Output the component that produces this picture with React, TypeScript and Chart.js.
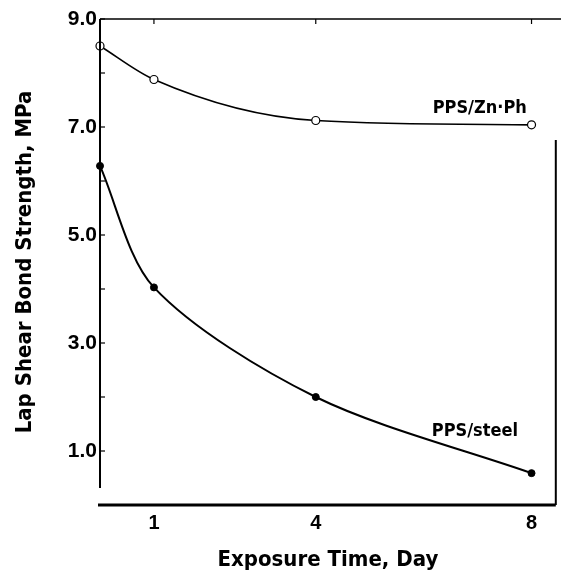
import React, { useEffect, useRef } from "react";
import { Chart, registerables } from "chart.js";

Chart.register(...registerables);

const days = [0, 1, 4, 8];
const znPhValues = [8.5, 7.88, 7.12, 7.04];
const steelValues = [6.28, 4.03, 2.0, 0.59];
const xTickValues = [1, 4, 8];
const yTickValues = [1, 2, 3, 4, 5, 6, 7, 8, 9];
const yLabeledTicks = [1, 3, 5, 7, 9];
const topTickValues = [1, 4, 8];
const seriesNames = ["PPS/Zn·Ph", "PPS/steel"];
const annotationX = [7.04, 6.95];
const annotationY = [7.34, 1.37];

const NARROW = '"Liberation Sans Narrow", "DejaVu Sans Condensed", sans-serif';
const WIDE = '"Liberation Sans", Arial, sans-serif';

const framePlugin = {
  id: "frame",
  afterDraw(chart: any) {
    const ctx = chart.ctx;
    const { left, right, top, bottom } = chart.chartArea;
    const xs = chart.scales.x;
    const ys = chart.scales.y;
    ctx.save();
    ctx.strokeStyle = "#000";
    ctx.lineCap = "butt";
    // left axis
    ctx.lineWidth = 2;
    ctx.beginPath();
    ctx.moveTo(left, top);
    ctx.lineTo(left, bottom - 17);
    ctx.stroke();
    // bottom axis
    ctx.lineWidth = 3;
    ctx.beginPath();
    ctx.moveTo(left - 2, bottom);
    ctx.lineTo(right, bottom);
    ctx.stroke();
    // top line
    ctx.lineWidth = 1.5;
    ctx.beginPath();
    ctx.moveTo(left, top);
    ctx.lineTo(chart.width, top);
    ctx.stroke();
    // right line
    ctx.lineWidth = 2;
    ctx.beginPath();
    ctx.moveTo(right, top + 121);
    ctx.lineTo(right, bottom);
    ctx.stroke();
    // y ticks (inward)
    ctx.lineWidth = 1.2;
    yTickValues.forEach((v) => {
      const y = ys.getPixelForValue(v);
      ctx.beginPath();
      ctx.moveTo(left, y);
      ctx.lineTo(left + 5, y);
      ctx.stroke();
    });
    // top ticks
    topTickValues.forEach((v) => {
      const x = xs.getPixelForValue(v);
      ctx.beginPath();
      ctx.moveTo(x, top);
      ctx.lineTo(x, top + 5);
      ctx.stroke();
    });
    // annotations
    ctx.fillStyle = "#000";
    ctx.font = `bold 18px ${NARROW}`;
    ctx.textAlign = "center";
    ctx.textBaseline = "middle";
    seriesNames.forEach((name, i) => {
      ctx.fillText(name, xs.getPixelForValue(annotationX[i]), ys.getPixelForValue(annotationY[i]));
    });
    ctx.restore();
  },
};

export default function App() {
  const canvasRef = useRef<HTMLCanvasElement | null>(null);

  useEffect(() => {
    document.body.style.margin = "0";
    const canvas = canvasRef.current;
    if (!canvas) return;
    const chart = new Chart(canvas, {
      type: "line",
      data: {
        datasets: [
          {
            label: seriesNames[0],
            data: days.map((d, i) => ({ x: d, y: znPhValues[i] })),
            borderColor: "#000",
            borderWidth: 1.6,
            cubicInterpolationMode: "monotone",
            pointRadius: 4,
            pointBorderWidth: 1.2,
            pointBackgroundColor: "#fff",
            pointBorderColor: "#000",
            clip: false,
          },
          {
            label: seriesNames[1],
            data: days.map((d, i) => ({ x: d, y: steelValues[i] })),
            borderColor: "#000",
            borderWidth: 2,
            tension: 0.3,
            pointRadius: 3.5,
            pointBorderWidth: 1,
            pointBackgroundColor: "#000",
            pointBorderColor: "#000",
            clip: false,
          },
        ] as any,
      },
      options: {
        animation: false,
        responsive: false,
        layout: { padding: { top: 19, right: 2, left: 0, bottom: 0 } },
        plugins: { legend: { display: false }, tooltip: { enabled: false } },
        scales: {
          x: {
            type: "linear",
            min: 0,
            max: 8.45,
            grid: { display: false, drawTicks: false },
            border: { display: false },
            afterBuildTicks: (scale: any) => {
              scale.ticks = xTickValues.map((v) => ({ value: v }));
            },
            afterFit: (scale: any) => {
              scale.height = 68;
            },
            ticks: {
              color: "#000",
              font: { family: WIDE, weight: "bold", size: 20 },
              padding: 6,
              maxRotation: 0,
              autoSkip: false,
              callback: (v: any) => String(v),
            },
            title: {
              display: true,
              text: "Exposure Time, Day",
              color: "#000",
              font: { family: NARROW, weight: "bold", size: 22 },
              padding: { top: 3, bottom: 0 },
            },
          },
          y: {
            type: "linear",
            min: 0,
            max: 9,
            grid: { display: false, drawTicks: false },
            border: { display: false },
            afterBuildTicks: (scale: any) => {
              scale.ticks = yTickValues.map((v) => ({ value: v }));
            },
            afterFit: (scale: any) => {
              scale.width = 100;
            },
            ticks: {
              color: "#000",
              font: { family: WIDE, weight: "bold", size: 21 },
              padding: 3,
              autoSkip: false,
              callback: (v: any) => (yLabeledTicks.includes(Number(v)) ? Number(v).toFixed(1) : ""),
            },
            title: {
              display: true,
              text: "Lap Shear Bond Strength, MPa",
              color: "#000",
              font: { family: NARROW, weight: "bold", size: 22 },
              padding: { top: 12, bottom: 0 },
            },
          },
        },
      } as any,
      plugins: [framePlugin],
    });
    return () => chart.destroy();
  }, []);

  return (
    <div style={{ position: "absolute", left: 0, top: 0, width: 561, height: 573, background: "#fff" }}>
      <canvas ref={canvasRef} width={561} height={573} />
    </div>
  );
}
